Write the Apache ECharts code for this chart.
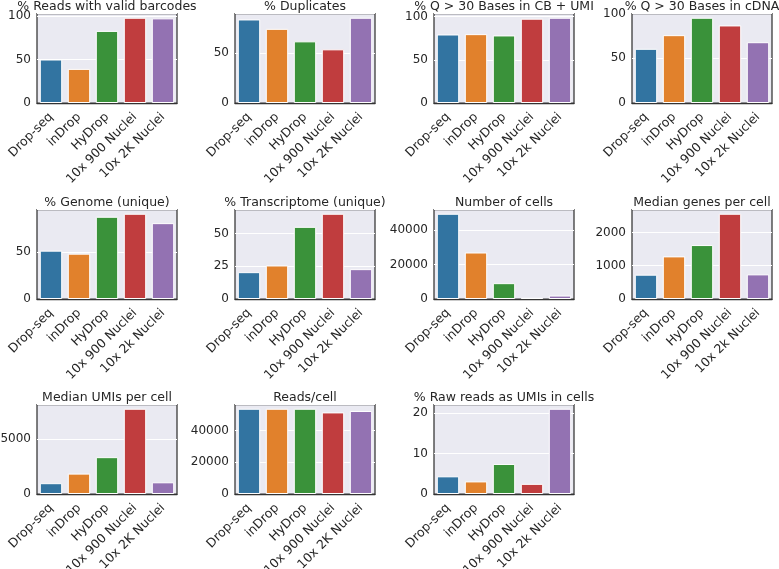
<!DOCTYPE html>
<html><head><meta charset="utf-8">
<script src="https://cdn.jsdelivr.net/npm/echarts@6/dist/echarts.min.js"></script>
<style>html,body{margin:0;padding:0;background:#fff}#c{width:779px;height:569px}</style>
</head><body><div id="c"></div>
<script>
const catsK = ['Drop-seq','inDrop','HyDrop','10x 900 Nuclei','10x 2K Nuclei'];
const catsk = ['Drop-seq','inDrop','HyDrop','10x 900 Nuclei','10x 2k Nuclei'];
const colors = ['#3274a1','#e1812c','#3a923a','#c03d3e','#9372b2'];
const titles = ['% Reads with valid barcodes','% Duplicates','% Q > 30 Bases in CB + UMI','% Q > 30 Bases in cDNA',
  '% Genome (unique)','% Transcriptome (unique)','Number of cells','Median genes per cell',
  'Median UMIs per cell','Reads/cell','% Raw reads as UMIs in cells'];
const validBarcodes = [50, 39.2, 82.9, 98, 97.3];
const duplicates = [83.6, 74.2, 61.7, 53.7, 85.3];
const q30CbUmi = [79.4, 79.8, 78.3, 97.7, 98.8];
const q30Cdna = [60.7, 76, 95.5, 86.9, 68.1];
const genomeUnique = [51.5, 48.3, 87.6, 90.8, 80.8];
const transcriptomeUnique = [20.5, 25.6, 55.1, 65.1, 22.8];
const numCells = [49500, 27000, 9200, 700, 2000];
const medianGenes = [730, 1280, 1620, 2560, 740];
const medianUmis = [980, 1850, 3340, 7730, 1060];
const readsPerCell = [53600, 53600, 53600, 51300, 52200];
const rawUmiPct = [4.35, 3.1, 7.4, 2.5, 21.0];
const tickIntervals = [50, 50, 50, 50, 50, 25, 20000, 1000, 5000, 20000, 10];

const panelData = [validBarcodes, duplicates, q30CbUmi, q30Cdna, genomeUnique, transcriptomeUnique,
  numCells, medianGenes, medianUmis, readsPerCell, rawUmiPct];
const panelCats = [catsK, catsK, catsk, catsk, catsk, catsk, catsk, catsk, catsK, catsK, catsk];

const colLeft = [37, 235, 434, 632];
const rowTop = [13.5, 209.5, 404.5];
const gw = 140, gh = 89.5;
const font = 'DejaVu Sans';
const txt = '#262626';

const grid = [], xAxis = [], yAxis = [], series = [], title = [];
panelData.forEach((d, i) => {
  const r = Math.floor(i / 4), c = i % 4;
  const left = colLeft[c], top = rowTop[r];
  grid.push({left: left, top: top, width: gw, height: gh, show: true, outerBoundsMode: 'none',
    backgroundColor: '#eaeaf2', borderColor: '#333', borderWidth: 1.25, containLabel: false});
  title.push({text: titles[i], left: left + gw / 2, top: top - 13, textAlign: 'center', padding: 0,
    textStyle: {fontFamily: font, fontSize: 12.5, fontWeight: 'normal', color: txt}});
  xAxis.push({type: 'category', gridIndex: i, data: panelCats[i], z: 5,
    axisLine: {show: true, lineStyle: {color: '#333', width: 1.25}},
    axisTick: {show: false},
    axisLabel: {rotate: 45, interval: 0, margin: 12,
      fontFamily: font, fontSize: 12.5, color: txt}});
  yAxis.push({type: 'value', gridIndex: i, min: 0, max: Math.max(...d) * 1.05, interval: tickIntervals[i],
    axisLine: {show: false}, axisTick: {show: false},
    axisLabel: {showMaxLabel: false, margin: 6, fontFamily: font, fontSize: 12, color: txt,
      formatter: v => String(v)},
    splitLine: {show: true, lineStyle: {color: '#ffffff', width: 1}}});
  series.push({type: 'bar', xAxisIndex: i, yAxisIndex: i, barWidth: '80%',
    data: d.map((v, j) => ({value: v, itemStyle: {color: colors[j]}})),
    itemStyle: {borderColor: '#ffffff', borderWidth: 1}, silent: true, animation: false});
});

const chart = echarts.init(document.getElementById('c'), null, {renderer: 'canvas'});
chart.setOption({animation: false, backgroundColor: '#ffffff',
  grid, xAxis, yAxis, series, title});
</script>
</body></html>
